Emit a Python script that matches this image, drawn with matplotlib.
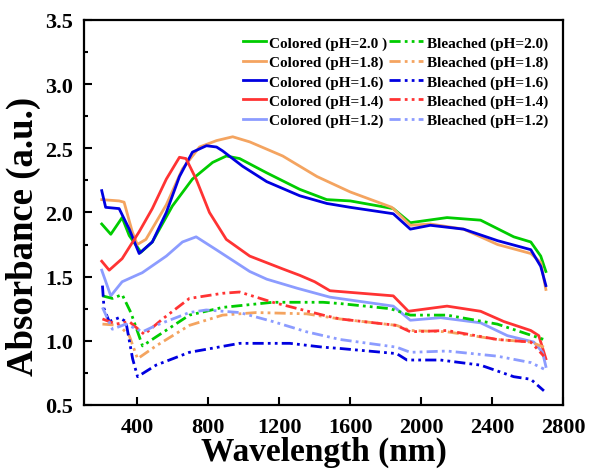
import matplotlib
matplotlib.use('Agg')
import matplotlib.pyplot as plt
from matplotlib.ticker import MultipleLocator

plt.rcParams['font.family'] = ['Liberation Serif', 'DejaVu Serif']
plt.rcParams['font.weight'] = 'bold'

# Colored samples (solid lines)
wl_c20 = [200, 251, 315, 355, 421, 485, 598, 711, 825, 902, 977, 1128, 1316, 1468, 1600,
          1843, 1939, 2146, 2335, 2522, 2618, 2674, 2703]
ab_c20 = [1.91, 1.83, 1.96, 1.82, 1.69, 1.77, 2.05, 2.26, 2.39, 2.44, 2.42, 2.31, 2.18, 2.10, 2.09,
          2.03, 1.92, 1.96, 1.94, 1.81, 1.77, 1.66, 1.54]

wl_c18 = [200, 298, 326, 372, 400, 449, 564, 655, 751, 847, 938, 1034, 1220, 1413, 1600,
          1835, 1939, 2052, 2239, 2431, 2618, 2674, 2703]
ab_c18 = [2.10, 2.09, 2.08, 1.85, 1.75, 1.79, 2.06, 2.34, 2.51, 2.56, 2.59, 2.55, 2.44, 2.28, 2.16,
          2.04, 1.90, 1.91, 1.87, 1.75, 1.68, 1.61, 1.40]

wl_c16 = [200, 222, 298, 355, 411, 485, 564, 638, 711, 790, 847, 881, 994, 1130, 1316, 1469,
          1600, 1843, 1939, 2052, 2239, 2431, 2618, 2674, 2703]
ab_c16 = [2.17, 2.04, 2.03, 1.87, 1.68, 1.77, 2.00, 2.28, 2.47, 2.52, 2.51, 2.48, 2.36, 2.24, 2.13, 2.07,
          2.04, 1.99, 1.87, 1.90, 1.87, 1.78, 1.71, 1.58, 1.43]

wl_c14 = [200, 242, 315, 411, 485, 564, 638, 675, 732, 807, 902, 1034, 1220, 1316, 1400, 1486,
          1843, 1928, 2146, 2335, 2466, 2618, 2663, 2703]
ab_c14 = [1.62, 1.55, 1.64, 1.85, 2.03, 2.26, 2.43, 2.42, 2.26, 2.00, 1.79, 1.66, 1.56, 1.51, 1.46, 1.39,
          1.35, 1.23, 1.27, 1.23, 1.15, 1.08, 1.04, 0.86]

wl_c12 = [200, 251, 315, 411, 428, 564, 655, 732, 845, 1034, 1130, 1300, 1486,
          1843, 1939, 2109, 2335, 2486, 2635, 2684, 2703]
ab_c12 = [1.55, 1.35, 1.46, 1.52, 1.53, 1.66, 1.77, 1.81, 1.71, 1.54, 1.48, 1.41, 1.34,
          1.27, 1.16, 1.18, 1.14, 1.04, 0.99, 0.91, 0.80]

# Bleached samples (dash-dot-dot lines)
wl_b20 = [204, 260, 315, 364, 430, 506, 694, 881, 1164, 1447, 1543, 1826, 1939, 2146, 2429, 2692]
ab_b20 = [1.35, 1.33, 1.36, 1.22, 0.96, 1.03, 1.20, 1.26, 1.30, 1.30, 1.29, 1.25, 1.20, 1.20, 1.13, 1.01]

wl_b18 = [204, 298, 355, 402, 506, 694, 881, 1071, 1354, 1543, 1862, 1939, 2146, 2429, 2618, 2692]
ab_b18 = [1.13, 1.12, 1.04, 0.86, 0.96, 1.12, 1.20, 1.22, 1.21, 1.17, 1.12, 1.08, 1.07, 1.01, 0.99, 0.95]

wl_b16 = [204, 213, 242, 298, 336, 374, 402, 506, 694, 977, 1260, 1447, 1543, 1862, 1920, 2109,
          2335, 2522, 2618, 2692]
ab_b16 = [1.43, 1.25, 1.15, 1.18, 1.15, 0.86, 0.72, 0.81, 0.91, 0.98, 0.98, 0.95, 0.94, 0.90, 0.85, 0.85,
          0.81, 0.72, 0.70, 0.61]

wl_b14 = [204, 280, 355, 440, 543, 694, 881, 977, 1164, 1447, 1543, 1862, 1939, 2146, 2429, 2618, 2692]
ab_b14 = [1.17, 1.13, 1.15, 1.05, 1.17, 1.33, 1.37, 1.38, 1.30, 1.20, 1.17, 1.12, 1.07, 1.08, 1.01, 0.99, 0.88]

wl_b12 = [204, 260, 336, 430, 506, 694, 789, 977, 1164, 1354, 1543, 1862, 1939, 2146, 2429, 2618, 2692]
ab_b12 = [1.26, 1.09, 1.13, 1.07, 1.12, 1.22, 1.24, 1.22, 1.15, 1.07, 1.01, 0.95, 0.91, 0.92, 0.88, 0.83, 0.78]

colors = ['#00cc00', '#f4a460', '#0000e0', '#ff3333', '#8c9cff']
ph_labels = ['2.0 ', '1.8', '1.6', '1.4', '1.2']
colored = [(wl_c20, ab_c20), (wl_c18, ab_c18), (wl_c16, ab_c16), (wl_c14, ab_c14), (wl_c12, ab_c12)]
bleached = [(wl_b20, ab_b20), (wl_b18, ab_b18), (wl_b16, ab_b16), (wl_b14, ab_b14), (wl_b12, ab_b12)]

fig = plt.figure(figsize=(5.89, 4.77), dpi=100)
ax = fig.add_axes([0.1426, 0.149, 0.8134, 0.807])

dashdotdot = (0, (4, 1.5, 1, 1.5, 1, 1.5))
h_col = []
h_bl = []
for (w, a), c, p in zip(colored, colors, ph_labels):
    h_col += ax.plot(w, a, color=c, lw=2, label='Colored (pH=%s)' % p)
for (w, a), c, p in zip(bleached, colors, ph_labels):
    h_bl += ax.plot(w, a, color=c, lw=2, ls=dashdotdot, label='Bleached (pH=%s)' % p.strip())

ax.set_xlim(100, 2800)
ax.set_ylim(0.5, 3.5)
ax.xaxis.set_major_locator(MultipleLocator(400))
ax.yaxis.set_major_locator(MultipleLocator(0.5))
ax.yaxis.set_minor_locator(MultipleLocator(0.25))
ax.tick_params(which='both', direction='in', width=1.5, labelsize=16)
ax.tick_params(axis='x', pad=9)
ax.tick_params(axis='y', pad=8)
ax.tick_params(which='major', length=6)
ax.tick_params(which='minor', length=3)
for s in ax.spines.values():
    s.set_linewidth(1.6)

ax.set_xlabel('Wavelength (nm)', fontsize=24, fontweight='bold', labelpad=-1)
ax.set_ylabel('Absorbance (a.u.)', fontsize=26.5, fontweight='bold')
ax.yaxis.set_label_coords(-0.09, 0.44)

legend_font = {'size': 11, 'weight': 'bold'}
leg1 = ax.legend(handles=h_col, frameon=False, loc='upper left',
                 bbox_to_anchor=(243 / 589, 1 - 37 / 477), bbox_transform=fig.transFigure,
                 prop=legend_font, handlelength=1.5, handletextpad=0.2,
                 labelspacing=0.36, borderpad=0, borderaxespad=0)
ax.add_artist(leg1)
ax.legend(handles=h_bl, frameon=False, loc='upper left',
          bbox_to_anchor=(389 / 589, 1 - 37 / 477), bbox_transform=fig.transFigure,
          prop=legend_font, handlelength=2.2, handletextpad=0.3,
          labelspacing=0.36, borderpad=0, borderaxespad=0)

fig.savefig('out.png', dpi=100)
